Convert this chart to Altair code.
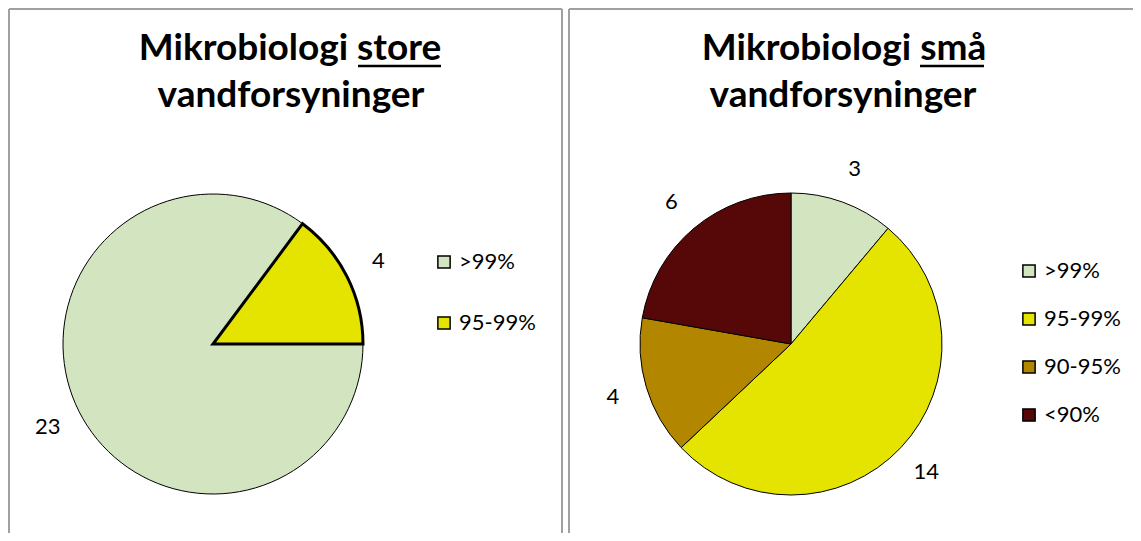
import math
import altair as alt
import pandas as pd

# Data
cats_store = [">99%", "95-99%"]
vals_store = [23, 4]
cats_small = [">99%", "95-99%", "90-95%", "<90%"]
vals_small = [3, 14, 4, 6]
title_store = ["Mikrobiologi store", "vandforsyninger"]
title_small = ["Mikrobiologi små", "vandforsyninger"]

all_cats = [">99%", "95-99%", "90-95%", "<90%"]
all_cols = ["#d2e5c0", "#e4e400", "#b38600", "#560808"]

FONT = "Lato"

df_store = pd.DataFrame({"cat": cats_store, "value": vals_store, "idx": list(range(len(cats_store)))})
df_small = pd.DataFrame({"cat": cats_small, "value": vals_small, "idx": list(range(len(cats_small)))})
dummy = pd.DataFrame({"a": [0]})


def pie(df, cx, cy, r, theta_range, legend_x, legend_y, row_pad, thick_cat=None):
    cats = list(df["cat"])
    cols = [all_cols[all_cats.index(c)] for c in cats]
    color = alt.Color(
        "cat:N",
        scale=alt.Scale(domain=cats, range=cols),
        sort=cats,
        legend=alt.Legend(
            title=None, orient="none", legendX=legend_x, legendY=legend_y,
            symbolType="square", symbolSize=150, symbolStrokeColor="black",
            symbolStrokeWidth=1.5, labelFont=FONT, labelFontSize=22,
            labelColor="black", rowPadding=row_pad, labelOffset=4,
        ),
    )
    theta_scale = alt.Scale(range=theta_range) if theta_range else alt.Undefined
    theta = alt.Theta("value:Q", stack=True, scale=theta_scale)
    if thick_cat:
        sw = alt.condition(alt.datum.cat == thick_cat, alt.value(3), alt.value(1))
    else:
        sw = alt.value(1)
    base = alt.Chart(df)
    arc = base.mark_arc(outerRadius=r, stroke="black").encode(
        theta=theta, color=color, order=alt.Order("idx:Q"),
        strokeWidth=sw, x=alt.value(cx), y=alt.value(cy),
    )
    txt = base.mark_text(radius=r + 35, font=FONT, fontSize=22, color="black").encode(
        theta=theta, order=alt.Order("idx:Q"), text="value:Q",
        x=alt.value(cx), y=alt.value(cy),
    )
    return alt.layer(arc, txt)


def text(s, x, y):
    return alt.Chart(dummy).mark_text(
        text=s, font=FONT, fontSize=37, fontWeight="bold", align="center",
        baseline="alphabetic", color="black",
    ).encode(x=alt.value(x), y=alt.value(y))


def rule(x, y, x2=None, y2=None, color="#a0a0a0", w=2):
    enc = dict(x=alt.value(x), y=alt.value(y))
    if x2 is not None:
        enc["x2"] = alt.value(x2)
    if y2 is not None:
        enc["y2"] = alt.value(y2)
    return alt.Chart(dummy).mark_rule(color=color, strokeWidth=w).encode(**enc)


H = 525
W = 1125
borders = [
    rule(1, 1, x2=554), rule(1, 1, y2=H), rule(554, 1, y2=H),
    rule(561, 1, x2=W), rule(561, 1, y2=H),
]

titles = [
    text(title_store[0], 282, 52), text(title_store[1], 283, 99),
    text(title_small[0], 836, 52), text(title_small[1], 835, 99),
    rule(350, 58, x2=433, color="black", w=2.5),
    rule(912, 58, x2=976, color="black", w=2.5),
]

left = pie(df_store, 205, 336, 150, [math.pi / 2, math.pi / 2 + 2 * math.pi], 425, 243, 39, thick_cat="95-99%")
right = pie(df_small, 783, 336, 151, None, 1010, 252, 26)

chart = alt.layer(*borders, *titles, left, right).resolve_scale(
    theta="independent", color="independent"
).properties(
    width=W, height=H, autosize=alt.AutoSizeParams(type="none"), padding=0
).configure_view(stroke=None)

chart.save("out.html", embed_options={"renderer": "svg", "actions": False})
